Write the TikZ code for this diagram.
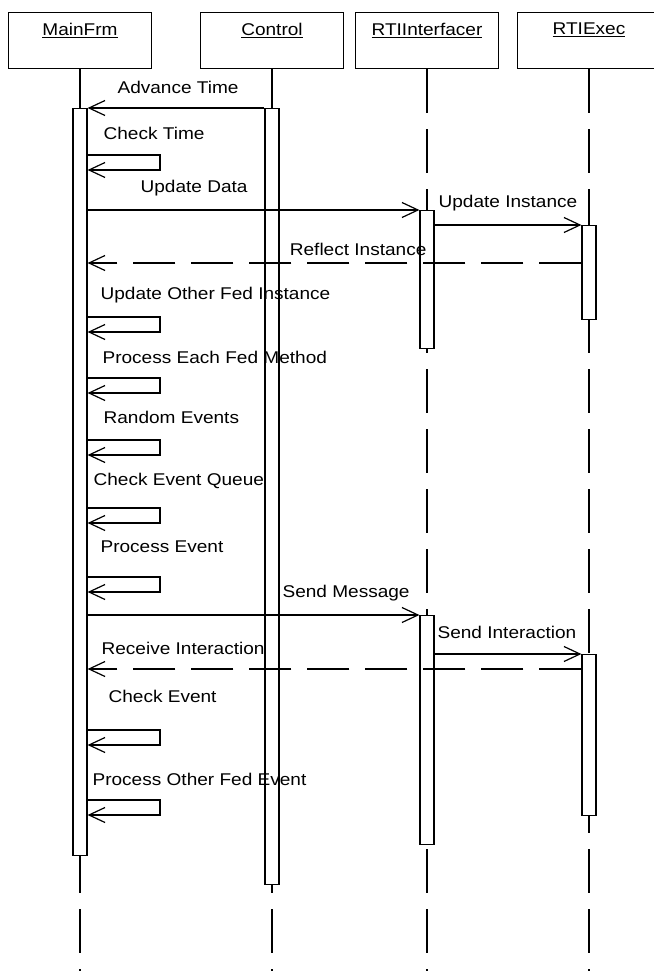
\documentclass[tikz,border=0pt]{standalone}
\usepackage{fontspec}
\setmainfont{Liberation Sans}[FakeStretch=1.12]
\usetikzlibrary{arrows.meta}

\begin{document}
\begin{tikzpicture}[x=1pt, y=-1pt, line width=1.2pt,
  every node/.style={font=\fontsize{17}{20}\selectfont},
  head/.style={draw, minimum width=143, minimum height=56, inner sep=0, anchor=north},
  life/.style={dash pattern=on 44pt off 16pt},
  actbar/.style={draw, fill=white, minimum width=14, inner sep=0, anchor=north},
  msg/.style={-{Straight Barb[length=16pt,width=15pt]}},
  ret/.style={msg, dash pattern=on 42pt off 16pt},
  lbl/.style={inner sep=0}]
  \useasboundingbox (0,0) rectangle (653,971);
  % objects and lifelines
  \foreach \nm/\x/\txt in {mainfrm/80/MainFrm, control/272/Control, rtiif/427/RTIInterfacer, rtiexec/589/RTIExec} {
    \node[head, label={[anchor=north, yshift=-7pt]north:\underline{\txt}}] (\nm) at (\x,12) {};
    \draw[life] (\nm.south) -- (\nm.south |- 0,971);
  }
  % activations
  \node[actbar, minimum height=747] (mbar) at (80,108) {};
  \node[actbar, minimum height=776] (cbar) at (272,108) {};
  \node[actbar, minimum height=138] (ibar1) at (427,210) {};
  \node[actbar, minimum height=229] (ibar2) at (427,615) {};
  \node[actbar, minimum height=94] (ebar1) at (589,225) {};
  \node[actbar, minimum height=161] (ebar2) at (589,654) {};
  % messages
  \draw[msg] (cbar.north west) -- (mbar.north east);
  \node[lbl, anchor=west] (tadv) at (117,87) {Advance Time};
  \draw[msg] (mbar.east |- ibar1.north) -- (ibar1.north west);
  \node[lbl, anchor=west] (tupd) at (140,188) {Update Data};
  \draw[msg] (ibar1.east |- ebar1.north) -- (ebar1.north west);
  \node[lbl, anchor=west] (tupi) at (438,203) {Update Instance};
  \draw[ret] (ebar1.west |- 0,263) -- (mbar.east |- 0,263);
  \node[lbl, anchor=east] (trefl) at (427,249) {Reflect Instance};
  \draw[msg] (mbar.east |- ibar2.north) -- (ibar2.north west);
  \node[lbl, anchor=west] (tsend) at (282,593) {Send Message};
  \draw[msg] (ibar2.east |- ebar2.north) -- (ebar2.north west);
  \node[lbl, anchor=west] (tsint) at (437,632) {Send Interaction};
  \draw[ret] (ebar2.west |- 0,669) -- (mbar.east |- 0,669);
  \node[lbl, anchor=west] (trecv) at (101,648) {Receive Interaction};
  % self calls on MainFrm
  \foreach \y/\lx/\ly/\txt [count=\i] in {155/103/133/Check Time, 317/100/295/Update Other Fed Instance,
      378/102/357/Process Each Fed Method, 440/103/417/Random Events, 508/93/481/Check Event Queue,
      577/100/547/Process Event, 730/108/696/Check Event, 800/92/779/Process Other Fed Event} {
    \node[lbl, anchor=west] (tself\i) at (\lx,\ly) {\txt};
    \draw[msg] (mbar.east |- 0,\y) -| (160,\y+15) -- (mbar.east |- 0,\y+15);
  }
\end{tikzpicture}
\end{document}
